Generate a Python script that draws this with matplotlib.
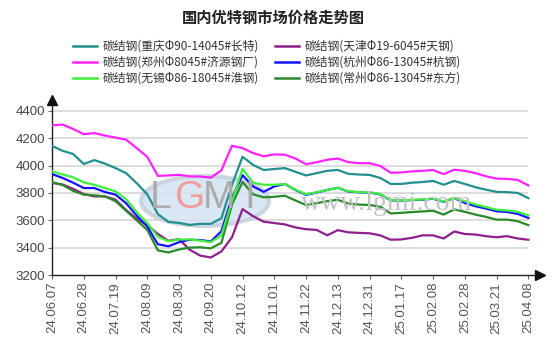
import matplotlib
matplotlib.use("Agg")
import matplotlib.pyplot as plt
import numpy as np
from matplotlib.lines import Line2D
from matplotlib.patches import Ellipse

plt.rcParams["font.family"] = ["Noto Sans CJK SC", "DejaVu Sans"]

TITLE = "国内优特钢市场价格走势图"

TICK_LABELS = [
    "24.06.07", "24.06.28", "24.07.19", "24.08.09", "24.08.30", "24.09.20",
    "24.10.12", "24.11.01", "24.11.22", "24.12.13", "24.12.31", "25.01.17",
    "25.02.08", "25.02.28", "25.03.21", "25.04.08",
]

NAMES = [
    "碳结钢(重庆Φ90-14045#长特)",
    "碳结钢(郑州Φ8045#济源钢厂)",
    "碳结钢(无锡Φ86-18045#淮钢)",
    "碳结钢(天津Φ19-6045#天钢)",
    "碳结钢(杭州Φ86-13045#杭钢)",
    "碳结钢(常州Φ86-13045#东方)",
]

chongqing = [4145, 4108, 4085, 4012, 4040, 4015, 3982, 3945, 3872, 3790,
             3645, 3588, 3581, 3566, 3574, 3574, 3615, 3860, 4065, 4005,
             3968, 3975, 3982, 3955, 3928, 3945, 3962, 3968, 3940, 3935,
             3932, 3910, 3866, 3866, 3875, 3880, 3888, 3860, 3888, 3866,
             3842, 3824, 3808, 3806, 3800, 3762]
zhengzhou = [4295, 4300, 4268, 4230, 4238, 4220, 4205, 4190, 4128, 4065,
             3925, 3928, 3933, 3922, 3920, 3912, 3965, 4145, 4128, 4092,
             4068, 4082, 4080, 4052, 4010, 4025, 4043, 4052, 4025, 4018,
             4018, 3998, 3948, 3950, 3958, 3962, 3968, 3938, 3970, 3962,
             3945, 3922, 3905, 3903, 3895, 3855]
wuxi = [3958, 3935, 3915, 3877, 3860, 3836, 3812, 3755, 3660, 3580,
        3480, 3447, 3460, 3460, 3452, 3440, 3490, 3740, 3975, 3875,
        3860, 3860, 3865, 3825, 3790, 3805, 3822, 3838, 3812, 3806,
        3805, 3792, 3748, 3745, 3750, 3752, 3760, 3738, 3763, 3740,
        3716, 3696, 3678, 3672, 3662, 3636]
tianjin = [3873, 3862, 3830, 3792, 3775, 3775, 3751, 3675, 3612, 3565,
           3500, 3450, 3462, 3385, 3342, 3328, 3372, 3475, 3682, 3630,
           3590, 3580, 3570, 3548, 3535, 3530, 3490, 3528, 3512, 3508,
           3505, 3490, 3458, 3460, 3472, 3490, 3490, 3467, 3518, 3500,
           3496, 3484, 3476, 3484, 3467, 3458]
hangzhou = [3938, 3910, 3875, 3836, 3836, 3807, 3788, 3725, 3635, 3555,
            3425, 3410, 3440, 3458, 3456, 3445, 3520, 3765, 3930, 3848,
            3808, 3848, 3866, 3822, 3786, 3803, 3822, 3838, 3810, 3805,
            3803, 3790, 3746, 3744, 3748, 3750, 3758, 3735, 3763, 3727,
            3703, 3686, 3666, 3661, 3647, 3617]
changzhou = [3880, 3858, 3815, 3788, 3783, 3775, 3740, 3670, 3600, 3530,
             3380, 3365, 3387, 3400, 3403, 3395, 3435, 3715, 3880, 3790,
             3768, 3772, 3780, 3745, 3712, 3725, 3740, 3750, 3722, 3715,
             3712, 3700, 3650, 3655, 3660, 3665, 3670, 3642, 3680, 3662,
             3642, 3625, 3605, 3605, 3593, 3565]

SERIES = [chongqing, zhengzhou, wuxi, tianjin, hangzhou, changzhou]
COLORS = ["#21908f", "#ff22ff", "#3cf03c", "#8e1f8e", "#1414ff", "#2a8a2a"]
DRAW_ORDER = [0, 1, 3, 5, 4, 2]

Y_TICKS = [3200, 3400, 3600, 3800, 4000, 4200, 4400]

W, H = 554, 362
fig = plt.figure(figsize=(W / 100, H / 100), dpi=100)
ax = fig.add_axes([52 / W, 1 - 275 / H, 488 / W, 175 / H])
ax.set_facecolor("none")

x = np.arange(len(chongqing))
ax.set_xlim(0, 46.1)
ax.set_ylim(3200, 4480)

ax.hlines(Y_TICKS[1:], 0, x[-1], color="#dadada", linewidth=1.3, zorder=0.5)

# faint LGMI watermark
ax.add_patch(Ellipse((205 / W, 1 - 201 / H), 128 / W, 50 / H, transform=fig.transFigure,
                     facecolor="#d3e2f2", edgecolor="#c5d0dc", linewidth=3, alpha=0.85, zorder=1))
for ch, px, col in [("L", 161, "#ababab"), ("G", 190, "#f29c9c"), ("M", 219, "#ababab"), ("I", 250, "#ababab")]:
    fig.text(px / W, 1 - 198 / H, ch, fontsize=28, color=col, ha="center", va="center",
             family=["Liberation Sans"], zorder=1.1)
fig.text(387 / W, 1 - 204 / H, "www.lgmi.com", fontsize=20, color="#c2c2c2", ha="center",
         va="center", family=["Liberation Serif"], zorder=1.1)

for k in DRAW_ORDER:
    ax.plot(x, SERIES[k], color=COLORS[k], linewidth=1.6, solid_joinstyle="round", zorder=3)

ax.set_xticks(x[::3])
ax.set_xticklabels(TICK_LABELS, rotation=90, family=["Liberation Sans"], fontsize=9.5, color="#555555")
ax.set_yticks(Y_TICKS)
ax.set_yticklabels([str(v) for v in Y_TICKS], family=["Liberation Sans"], fontsize=9.5, color="#444444")
ax.tick_params(axis="both", length=3, width=0.8, color="#666666", pad=2)

for side in ["top", "right"]:
    ax.spines[side].set_visible(False)
for side in ["left", "bottom"]:
    ax.spines[side].set_color("#222222")
    ax.spines[side].set_linewidth(1.0)
ax.plot(1, 0, ">", color="#111111", markersize=7, transform=ax.transAxes, clip_on=False, zorder=5)
ax.plot(0, 1, "^", color="#111111", markersize=7, transform=ax.transAxes, clip_on=False, zorder=5)

fig.text(273 / W, 1 - 18 / H, TITLE, fontsize=11, weight="bold", ha="center", va="center", color="#222222")

handles = [Line2D([0], [0], color=c, linewidth=1.8) for c in COLORS]
fig.legend(handles, NAMES, ncol=2, loc="upper left", bbox_to_anchor=(73 / W, 1 - 40 / H),
           frameon=False, prop={"family": ["Noto Sans CJK SC", "DejaVu Sans"], "size": 8.5},
           labelcolor="#333333", handlelength=2.0, handletextpad=0.5, columnspacing=1.4,
           labelspacing=0.25, borderpad=0, borderaxespad=0)

fig.savefig("out.png", dpi=100)
